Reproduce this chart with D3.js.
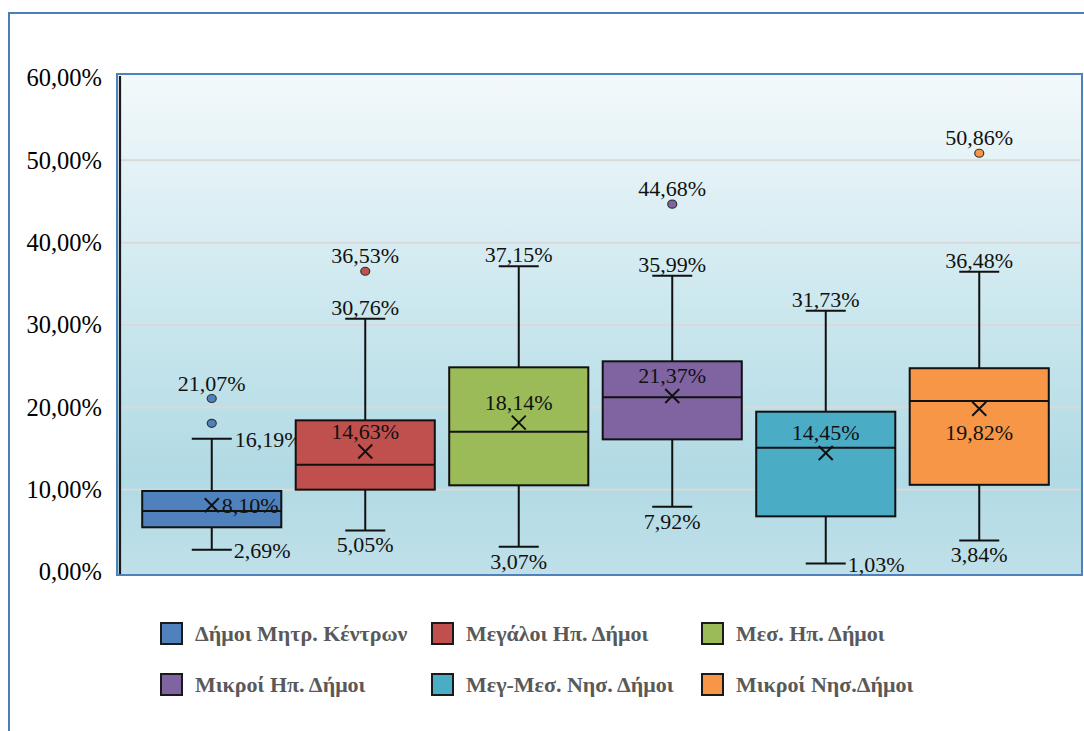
<!DOCTYPE html>
<html>
<head>
<meta charset="utf-8">
<script src="https://cdn.jsdelivr.net/npm/d3@7"></script>
<style>
  html, body { margin: 0; padding: 0; background: #ffffff; }
  svg { display: block; }
</style>
</head>
<body>
<svg id="chart" width="1084" height="731"></svg>
<script>
// ---- data ----
const categories = ["Δήμοι Μητρ. Κέντρων", "Μεγάλοι Ηπ. Δήμοι", "Μεσ. Ηπ. Δήμοι",
                    "Μικροί Ηπ. Δήμοι", "Μεγ-Μεσ. Νησ. Δήμοι", "Μικροί Νησ.Δήμοι"];
const whiskerLow  = [2.69, 5.05, 3.07, 7.92, 1.03, 3.84];
const q1Values    = [5.43, 10.00, 10.53, 16.11, 6.76, 10.59];
const medians     = [7.41, 13.03, 17.04, 21.22, 15.10, 20.77];
const q3Values    = [9.84, 18.42, 24.86, 25.59, 19.47, 24.75];
const whiskerHigh = [16.19, 30.76, 37.15, 35.99, 31.73, 36.48];
const means       = [8.10, 14.63, 18.14, 21.37, 14.45, 19.82];
const outliers    = [[21.07, 18.06], [36.53], [], [44.68], [], [50.86]];
const yTicks      = [0, 10, 20, 30, 40, 50, 60];
const colors      = ["#4f81bd", "#c0504d", "#9bbb59", "#8064a2", "#4bacc6", "#f79646"];
// label placement (style)
const highLabelPos = ["right", "above", "above", "above", "above", "above"];
const meanLabelPos = ["right", "above", "above", "above", "above", "below"];
const lowLabelPos  = ["right", "below", "below", "below", "right", "below"];

const fmt = v => d3.format(".2f")(v).replace(".", ",") + "%";
const SERIF = "'Liberation Serif', 'Times New Roman', serif";

const svg = d3.select("#chart");
const defs = svg.append("defs");
const grad = defs.append("linearGradient").attr("id", "bg").attr("x1", 0).attr("y1", 0).attr("x2", 0).attr("y2", 1);
[[0, "#f3f9fb"], [0.45, "#cde8ef"], [0.8, "#b1dae4"], [1, "#bfe0e9"]].forEach(s =>
  grad.append("stop").attr("offset", s[0]).attr("stop-color", s[1]));

// outer border
svg.append("rect").attr("x", 9).attr("y", 13).attr("width", 1100).attr("height", 760)
  .attr("fill", "none").attr("stroke", "#4a7ebb").attr("stroke-width", 2);

const plot = {left: 117, right: 1082, top: 74, bottom: 575};
const y = d3.scaleLinear().domain([0, 60]).range([572, 78]);
const x = d3.scaleBand().domain(categories).range([135, 1056]).paddingInner(0.094).paddingOuter(0.047);

// plot area
svg.append("rect").attr("x", plot.left).attr("y", plot.top)
  .attr("width", plot.right - plot.left).attr("height", plot.bottom - plot.top)
  .attr("fill", "url(#bg)").attr("stroke", "#4f81bd").attr("stroke-width", 2);

// gridlines
svg.append("g").selectAll("line").data(yTicks.filter(t => t > 0 && t < 60)).join("line")
  .attr("x1", plot.left + 2).attr("x2", plot.right - 2)
  .attr("y1", d => y(d)).attr("y2", d => y(d))
  .attr("stroke", "#d9d9d9").attr("stroke-width", 2);

// y axis
const yAxis = svg.append("g").attr("transform", "translate(120,0)")
  .call(d3.axisLeft(y).tickValues(yTicks).tickSize(0).tickPadding(18).tickFormat(fmt));
yAxis.select(".domain").remove();
yAxis.selectAll("text").attr("font-family", SERIF).attr("font-size", 24.5)
  .attr("fill", "#000");
svg.append("line").attr("x1", 120).attr("x2", 120).attr("y1", 76).attr("y2", 574)
  .attr("stroke", "#1a1a1a").attr("stroke-width", 2.2);

const capW = 40;
const g = svg.append("g");
categories.forEach((c, i) => {
  const cx = x(c) + x.bandwidth() / 2;
  const col = colors[i];
  // whiskers
  g.append("line").attr("x1", cx).attr("x2", cx).attr("y1", y(whiskerHigh[i])).attr("y2", y(q3Values[i]))
    .attr("stroke", "#111").attr("stroke-width", 2);
  g.append("line").attr("x1", cx).attr("x2", cx).attr("y1", y(q1Values[i])).attr("y2", y(whiskerLow[i]))
    .attr("stroke", "#111").attr("stroke-width", 2);
  [whiskerHigh[i], whiskerLow[i]].forEach(v =>
    g.append("line").attr("x1", cx - capW / 2).attr("x2", cx + capW / 2).attr("y1", y(v)).attr("y2", y(v))
      .attr("stroke", "#111").attr("stroke-width", 2));
  // box
  g.append("rect").attr("x", x(c)).attr("y", y(q3Values[i])).attr("width", x.bandwidth())
    .attr("height", y(q1Values[i]) - y(q3Values[i]))
    .attr("fill", col).attr("stroke", "#111").attr("stroke-width", 2);
  g.append("line").attr("x1", x(c)).attr("x2", x(c) + x.bandwidth()).attr("y1", y(medians[i])).attr("y2", y(medians[i]))
    .attr("stroke", "#111").attr("stroke-width", 2);
  // mean marker
  const my = y(means[i]), s = 7;
  g.append("path").attr("d", `M${cx - s},${my - s}L${cx + s},${my + s}M${cx - s},${my + s}L${cx + s},${my - s}`)
    .attr("stroke", "#111").attr("stroke-width", 2).attr("fill", "none");
  // outliers
  outliers[i].forEach(v =>
    g.append("ellipse").attr("cx", cx).attr("cy", y(v)).attr("rx", 4.5).attr("ry", 4)
      .attr("fill", col).attr("stroke", "#333").attr("stroke-width", 1.2));

  // labels
  const lab = (txt, lx, ly, anchor) => g.append("text").attr("x", lx).attr("y", ly)
    .attr("text-anchor", anchor).attr("font-family", SERIF)
    .attr("font-size", 22).attr("fill", "#111").text(txt);
  if (outliers[i].length) {
    const mx = d3.max(outliers[i]);
    lab(fmt(mx), cx, y(mx) - 8, "middle");
  }
  const hy = y(whiskerHigh[i]);
  if (highLabelPos[i] === "right") lab(fmt(whiskerHigh[i]), cx + capW / 2 + 3, hy + 8, "start");
  else lab(fmt(whiskerHigh[i]), cx, hy - 4, "middle");
  const ly = y(whiskerLow[i]);
  if (lowLabelPos[i] === "right") lab(fmt(whiskerLow[i]), cx + capW / 2 + 2, ly + 8, "start");
  else lab(fmt(whiskerLow[i]), cx, ly + 22, "middle");
  if (meanLabelPos[i] === "right") lab(fmt(means[i]), cx + 10, my + 8, "start");
  else if (meanLabelPos[i] === "below") lab(fmt(means[i]), cx, my + 31, "middle");
  else lab(fmt(means[i]), cx, my - 13, "middle");
});

// legend
const legCols = [161, 432, 702];
const legRows = [623, 674];
const leg = svg.append("g");
categories.forEach((c, i) => {
  const lx = legCols[i % 3], ly = legRows[Math.floor(i / 3)];
  leg.append("rect").attr("x", lx).attr("y", ly).attr("width", 21).attr("height", 21)
    .attr("fill", colors[i]).attr("stroke", "#1a1a1a").attr("stroke-width", 2);
  leg.append("text").attr("x", lx + 34).attr("y", ly + 18)
    .attr("font-family", SERIF).attr("font-weight", "bold")
    .attr("font-size", 22).attr("fill", "#595959").text(c);
});
</script>
</body>
</html>
